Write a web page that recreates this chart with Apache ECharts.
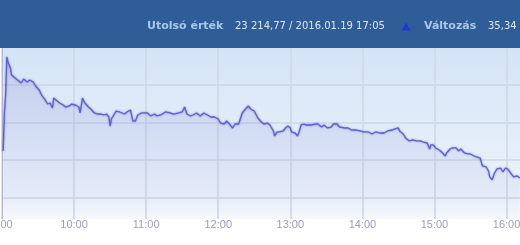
<!DOCTYPE html>
<html>
<head>
<meta charset="utf-8">
<script src="https://cdn.jsdelivr.net/npm/echarts@6/dist/echarts.min.js"></script>
<style>
html,body{margin:0;padding:0;background:#fff;}
#c{width:520px;height:245px;}
</style>
</head>
<body>
<div id="c"></div>
<script>
// ---- data ----
var times = [
 '9:01','9:02','9:03','9:04','9:05','9:07','9:08','9:11','9:13','9:16',
 '9:18','9:21','9:23','9:26','9:28','9:31','9:33','9:36','9:38','9:40',
 '9:42','9:43','9:46','9:48','9:51','9:53','9:56','9:58','10:01','10:04',
 '10:05','10:07','10:09','10:12','10:14','10:17','10:20','10:22','10:25','10:27',
 '10:29','10:30','10:31','10:33','10:35','10:38','10:42','10:44','10:47','10:49',
 '10:51','10:53','10:56','11:01','11:04','11:07','11:09','11:12','11:16','11:20',
 '11:23','11:27','11:30','11:32','11:34','11:37','11:39','11:42','11:45','11:48',
 '11:51','11:54','11:57','12:00','12:02','12:05','12:07','12:10','12:12','12:14',
 '12:17','12:18','12:20','12:22','12:25','12:27','12:30','12:33','12:36','12:38',
 '12:41','12:43','12:46','12:47','12:49','12:51','12:54','12:56','12:58','13:00',
 '13:01','13:04','13:06','13:07','13:09','13:11','13:13','13:16','13:18','13:21',
 '13:23','13:26','13:28','13:31','13:34','13:36','13:39','13:41','13:45','13:48',
 '13:51','13:55','13:58','14:01','14:05','14:08','14:11','14:15','14:18','14:21',
 '14:25','14:27','14:30','14:31','14:34','14:36','14:39','14:42','14:45','14:48',
 '14:51','14:54','14:56','14:57','14:59','15:01','15:04','15:06','15:09','15:10',
 '15:13','15:15','15:18','15:20','15:22','15:25','15:28','15:30','15:33','15:35',
 '15:38','15:40','15:43','15:45','15:46','15:48','15:50','15:52','15:55','15:57',
 '15:59','16:01','16:04','16:06','16:09','16:11'
];
var values = [
 23262.2,23314.1,23336.7,23387.3,23380.6,23372.7,23363.3,23359.3,23356.7,23352.7,
 23358.0,23354.0,23356.7,23354.0,23348.7,23343.4,23336.7,23330.1,23324.7,23326.1,
 23319.4,23332.7,23328.7,23326.1,23323.4,23320.7,23322.1,23324.7,23323.4,23320.7,
 23312.8,23332.7,23326.1,23320.7,23318.1,23312.8,23311.4,23311.4,23310.1,23311.4,
 23307.4,23295.4,23304.8,23310.1,23315.4,23314.1,23311.4,23314.1,23316.7,23302.1,
 23302.1,23310.1,23312.8,23312.8,23308.8,23311.4,23308.8,23310.1,23314.1,23312.8,
 23311.4,23312.8,23314.1,23320.7,23311.4,23308.8,23310.1,23312.8,23308.8,23312.8,
 23310.1,23307.4,23307.4,23304.8,23299.4,23298.1,23302.1,23296.8,23292.8,23298.1,
 23298.1,23299.4,23312.8,23316.7,23322.1,23318.1,23315.4,23306.1,23300.8,23298.1,
 23299.4,23296.8,23288.8,23282.1,23287.5,23287.5,23288.8,23292.8,23295.4,23292.8,
 23287.5,23286.1,23282.1,23286.1,23296.8,23298.1,23296.8,23296.8,23296.8,23298.1,
 23298.1,23294.1,23296.8,23292.8,23294.1,23298.1,23298.1,23294.1,23292.8,23292.8,
 23290.1,23290.1,23288.8,23287.5,23287.5,23284.8,23287.5,23286.1,23286.1,23288.8,
 23290.1,23291.5,23292.8,23288.8,23284.8,23279.5,23275.5,23276.8,23275.5,23275.5,
 23274.1,23272.8,23264.8,23270.2,23270.2,23266.2,23263.5,23260.8,23255.5,23259.5,
 23264.8,23266.2,23266.2,23262.2,23264.8,23259.5,23258.2,23258.2,23255.5,23254.2,
 23252.8,23242.2,23240.9,23235.5,23227.6,23223.6,23232.9,23238.2,23239.5,23234.2,
 23239.5,23238.2,23231.5,23227.6,23228.9,23226.2
];
var headerLabels = ['Utolsó érték', 'Változás'];
var headerValues = ['23 214,77 / 2016.01.19 17:05', '35,34'];
var xStart = '9:00';
var xEnd = '16:11';

function toMin(t){ var p = t.split(':'); return (+p[0])*60 + (+p[1]); }
var seriesData = [];
for (var i = 0; i < Math.min(times.length, values.length); i++) {
  seriesData.push([toMin(times[i]), values[i]]);
}

var chart = echarts.init(document.getElementById('c'), null, {renderer:'canvas'});
var option = {
  animation: false,
  grid: {
    left: 2, right: 0, top: 48, bottom: 26,
    containLabel: false,
    outerBoundsMode: 'none',
    show: true, borderWidth: 0,
    backgroundColor: new echarts.graphic.LinearGradient(0,0,0,1,[
      {offset:0, color:'#d4e4f6'},
      {offset:0.85, color:'#edf3fb'},
      {offset:1, color:'#ffffff'}
    ])
  },
  xAxis: {
    type: 'value',
    min: toMin(xStart),
    max: toMin(xEnd) + 0.2,
    interval: 60,
    axisLine: {show:false},
    axisTick: {show:false},
    splitLine: {show:true, showMaxLine:false, lineStyle:{color:'#ccd7e6', width:1.5}},
    axisLabel: {
      show: true, showMinLabel: true, showMaxLabel: false,
      color: '#9c9cc4', fontSize: 11, fontFamily: 'Liberation Sans, Arial, sans-serif',
      margin: 0, hideOverlap: false,
      formatter: function(v){ if (v % 60 !== 0) return ''; return Math.floor(v/60) + ':00'; }
    }
  },
  yAxis: {
    type: 'value',
    min: 23171.6,
    max: 23399.3,
    minInterval: 50,
    maxInterval: 50,
    axisLine: {show:true, lineStyle:{color:'#b4b8d0', width:1}},
    axisTick: {show:false},
    axisLabel: {show:false},
    splitLine: {show:true, showMinLine:false, showMaxLine:false, lineStyle:{color:'#ccd7e6', width:1.5}}
  },
  graphic: [
    {type:'rect', left:0, top:0, shape:{x:0,y:0,width:520,height:48}, style:{fill:'#2e5d98'}, z:100},
    {type:'text', x:147, y:26.5, style:{text:headerLabels[0], fill:'#a9c6ec', font:'bold 11px "DejaVu Sans"', verticalAlign:'middle'}, z:101},
    {type:'text', x:235, y:26.5, style:{text:headerValues[0], fill:'#dfe7f1', font:'10px "DejaVu Sans"', verticalAlign:'middle'}, z:101},
    {type:'polygon', shape:{points:[[406,22.5],[410.5,30.5],[401.5,30.5]]}, style:{fill:'#2139c9'}, z:101},
    {type:'text', x:424, y:26.5, style:{text:headerLabels[1], fill:'#a9c6ec', font:'bold 11px "DejaVu Sans"', verticalAlign:'middle'}, z:101},
    {type:'text', x:488, y:26.5, style:{text:headerValues[1], fill:'#dfe7f1', font:'10px "DejaVu Sans"', verticalAlign:'middle'}, z:101}
  ],
  series: [{
    type: 'line',
    data: seriesData,
    showSymbol: false,
    symbol: 'none',
    lineStyle: {color:'#5b5ee6', width:1.3, shadowColor:'rgba(60,60,80,0.55)', shadowBlur:2},
    areaStyle: {
      origin: 'start',
      color: new echarts.graphic.LinearGradient(0,0,0,1,[
        {offset:0, color:'rgba(110,115,205,0.32)'},
        {offset:1, color:'rgba(150,155,220,0.10)'}
      ])
    }
  }]
};
chart.setOption(option);
</script>
</body>
</html>
